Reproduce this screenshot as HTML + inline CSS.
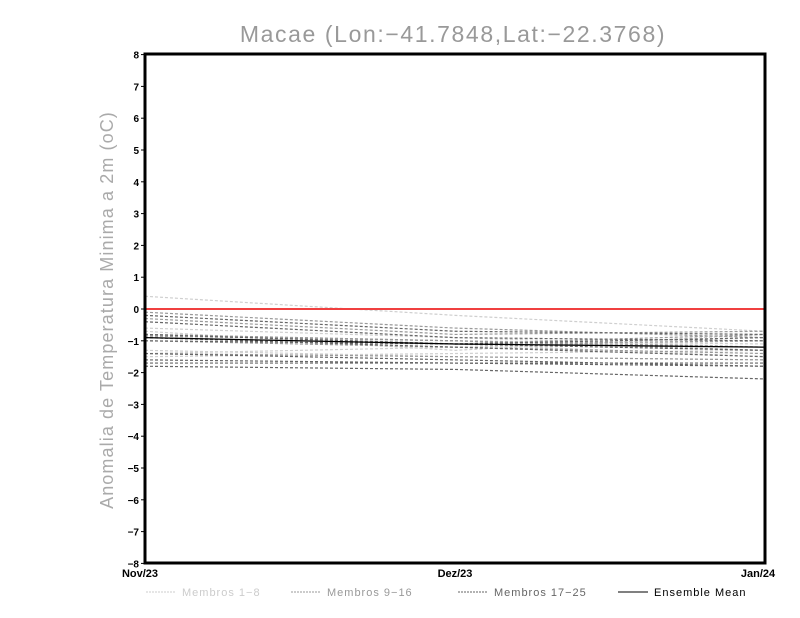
<!DOCTYPE html>
<html><head><meta charset="utf-8"><style>
html,body{margin:0;padding:0;background:#fff;}
svg{display:block;font-family:"Liberation Sans",sans-serif;}
</style></head><body>
<svg id="s" width="800" height="618" viewBox="0 0 800 618" xmlns="http://www.w3.org/2000/svg">
<text x="453" y="42" font-size="23" fill="#999" text-anchor="middle" letter-spacing="1.6">Macae (Lon:−41.7848,Lat:−22.3768)</text>
<text transform="translate(113,310) rotate(-90)" font-size="18" fill="#aaa" text-anchor="middle" letter-spacing="1.1">Anomalia de Temperatura Minima a 2m (oC)</text>
<g id="lines"></g>
<line x1="145" y1="309" x2="765" y2="309" stroke="#f04040" stroke-width="2"/>
<rect x="145" y="54" width="620" height="509" fill="none" stroke="#000" stroke-width="3"/>
<g id="ticks" font-size="10" font-weight="bold" fill="#000"></g>
<g font-size="11" font-weight="bold" fill="#000" text-anchor="middle">
<text x="140" y="577">Nov/23</text><text x="455" y="577">Dez/23</text><text x="758" y="577">Jan/24</text>
</g>
<g font-size="11" letter-spacing="1">
<line x1="146" y1="592" x2="176" y2="592" stroke="#ccc" stroke-dasharray="2,1"/><text x="182" y="596" fill="#ccc">Membros 1−8</text>
<line x1="291" y1="592" x2="321" y2="592" stroke="#999" stroke-dasharray="2,1"/><text x="327" y="596" fill="#999">Membros 9−16</text>
<line x1="458" y1="592" x2="488" y2="592" stroke="#666" stroke-dasharray="2,1"/><text x="494" y="596" fill="#666">Membros 17−25</text>
<line x1="618" y1="592" x2="648" y2="592" stroke="#000"/><text x="654" y="596" fill="#000">Ensemble Mean</text>
</g>
</svg>
<script>
var Y=function(v){return 309-31.8*v;};
var groups=[
["#cfcfcf",[[0.4,-0.2,-0.7],[-0.6,-0.9,-1.2],[-0.8,-1.0,-1.1],[-1.4,-1.2,-1.0],[-1.5,-1.4,-1.3],[-0.9,-1.1,-1.5],[-0.7,-1.3,-0.8],[-1.3,-1.5,-1.6]]],
["#999",[[-0.1,-0.6,-0.9],[-0.3,-0.8,-0.7],[-0.8,-1.0,-1.2],[-0.9,-1.1,-1.0],[-1.0,-1.2,-1.4],[-1.4,-1.5,-1.6],[-0.8,-1.1,-0.8],[-0.85,-1.0,-1.3]]],
["#666",[[-0.2,-0.7,-0.8],[-0.4,-0.9,-1.0],[-0.8,-1.1,-1.3],[-1.6,-1.7,-1.8],[-1.8,-1.9,-2.2],[-1.7,-1.7,-1.7],[-0.9,-1.2,-1.5],[-1.0,-1.1,-0.9],[-1.4,-1.6,-1.8]]]];
var h="";
groups.forEach(function(g){g[1].forEach(function(a){h+='<polyline fill="none" stroke="'+g[0]+'" stroke-width="1.2" stroke-dasharray="3,2" points="145,'+Y(a[0])+' 455,'+Y(a[1])+' 765,'+Y(a[2])+'"/>';});});
h+='<polyline fill="none" stroke="#000" stroke-width="1.3" points="145,'+Y(-0.9)+' 455,'+Y(-1.1)+' 765,'+Y(-1.2)+'"/>';
document.getElementById("lines").innerHTML=h;
var t="";
for(var v=-8;v<=8;v++){var y=Y(v);t+='<line x1="141" y1="'+y+'" x2="145" y2="'+y+'" stroke="#000"/><text x="139" y="'+(y+4)+'" text-anchor="end">'+(v<0?'−'+(-v):v)+'</text>';}
document.getElementById("ticks").innerHTML=t;
</script>
</body></html>
